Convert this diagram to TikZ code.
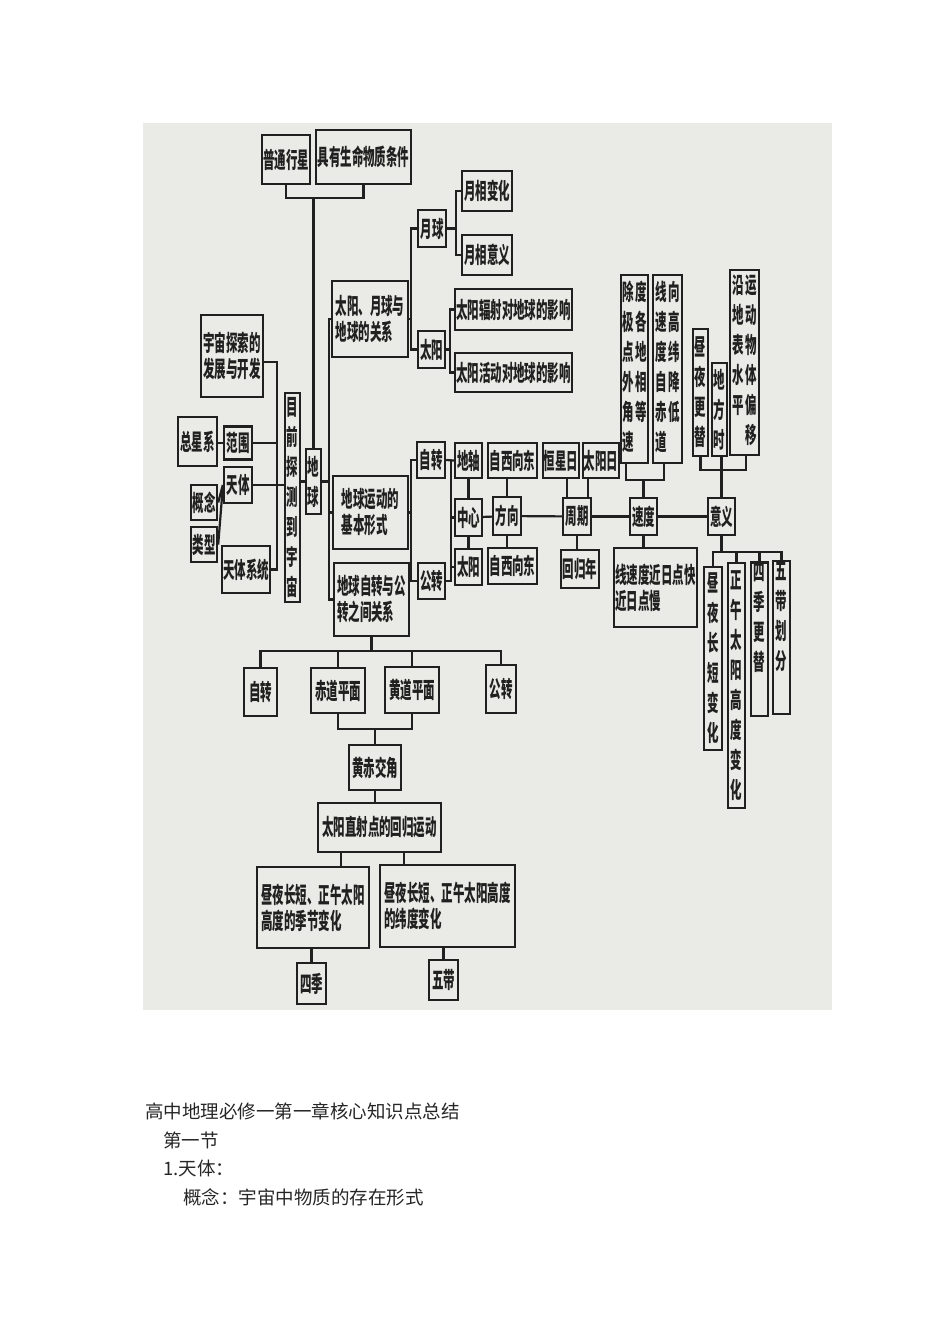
\documentclass[tikz,border=0pt]{standalone}
\usepackage{fontspec}
\newfontfamily\cjk[FakeStretch=0.51]{Noto Sans CJK SC}
\newfontfamily\cjkbody{Noto Sans CJK SC}
\usepackage{tikz}
\definecolor{scan}{RGB}{234,234,230}
\definecolor{ink}{RGB}{32,32,32}
\newcommand{\vcol}[1]{\begin{tabular}[t]{@{}c@{}}#1\end{tabular}}
\tikzset{
  box/.style={draw=ink, text=ink, line width=2.4pt, inner sep=1pt, align=center,
    font=\cjk\bfseries\fontsize{22.5}{26}\selectfont},
  vbox/.style={box, font=\cjk\bfseries\fontsize{22.5}{30}\selectfont},
  link/.style={draw=ink, line width=2.2pt},
  foot/.style={anchor=west, inner sep=0pt, text=black!85,
    font=\cjkbody\fontsize{18.5}{20}\selectfont},
}
\begin{document}
\begin{tikzpicture}[x=1pt,y=-1pt]
\useasboundingbox (0,0) rectangle (950,1344);
\fill[scan] (143,123) rectangle (832,1010);
%%%%%%%%%%%%%%%%%%%%%%%%%%%%%%%%
%% top and left part
%%%%%%%%%%%%%%%%%%%%%%%%%%%%%%%%
\node[box, minimum width=48, minimum height=49] (putong) at (286,159.5) {普通行星};
\node[box, minimum width=95, minimum height=54] (juyou) at (363.5,157) {具有生命物质条件};
\node[vbox, minimum width=15, minimum height=65] (diqiu) at (313.5,481.5) {地\\球};
\node[vbox, minimum width=15, minimum height=209] (muqian) at (292.5,497.5) {目\\前\\探\\测\\到\\宇\\宙};
\node[box, minimum width=62, minimum height=82] (yuzhou) at (232,356) {宇宙探索的\\发展与开发};
\node[box, minimum width=39, minimum height=49] (zongxing) at (197.5,441.5) {总星系};
\node[box, minimum width=28, minimum height=33] (fanwei) at (238,443) {范围};
\node[box, minimum width=28, minimum height=36] (tianti) at (238,485) {天体};
\node[box, minimum width=26, minimum height=35] (gainian) at (204,502.5) {概念};
\node[box, minimum width=26, minimum height=35] (leixing) at (204,544.5) {类型};
\node[box, minimum width=48, minimum height=47] (tixi) at (246,569.5) {天体系统};
%
\coordinate (topbus) at (313.5,198);
\draw[link] (putong.south) |- (topbus) -| (juyou.south);
\draw[link] (topbus) -- (diqiu.north);
\draw[link] (muqian.east |- diqiu.west) -- (diqiu.west);
\coordinate (lbus) at (277,0);
\draw[link] ([yshift=-6pt]yuzhou.east) -| (lbus |- tixi.east) -- (tixi.east);
\draw[link] (fanwei.east) -- (lbus |- fanwei.east);
\draw[link] (tianti.east) -- (muqian.west |- tianti.east);
\draw[link] (zongxing.east |- fanwei.west) -- (fanwei.west);
\draw[link] (gainian.east) -- (tianti.west);
\draw[link] (leixing.east) -- ([yshift=-2pt]tianti.west);
%%%%%%%%%%%%%%%%%%%%%%%%%%%%%%%%
%% sun, moon and earth
%%%%%%%%%%%%%%%%%%%%%%%%%%%%%%%%
\node[box, align=left, minimum width=76, minimum height=76] (guanxi) at (370,319) {太阳、月球与\\地球的关系};
\node[box, minimum width=28, minimum height=37] (yueqiu) at (432,228.5) {月球};
\node[box, minimum width=27, minimum height=37] (taiyang) at (431.5,349.5) {太阳};
\node[box, minimum width=50, minimum height=40] (yxbh) at (487,191) {月相变化};
\node[box, minimum width=50, minimum height=40] (yxyy) at (487,255) {月相意义};
\node[box, minimum width=117, minimum height=41] (fushe) at (513.5,309.5) {太阳辐射对地球的影响};
\node[box, minimum width=117, minimum height=39] (huodong) at (513.5,372.5) {太阳活动对地球的影响};
%
\coordinate (gbus) at (411,0);
\draw[link] (yueqiu.west) -| (gbus |- taiyang.west) -- (taiyang.west);
\draw[link] (guanxi.east) -- (gbus |- guanxi.east);
\coordinate (ybus) at (456,0);
\draw[link] (yxbh.west) -| (ybus |- yxyy.west) -- (yxyy.west);
\draw[link] (yueqiu.east) -- (ybus |- yueqiu.east);
\coordinate (tbus) at (450,0);
\draw[link] (fushe.west) -| (tbus |- huodong.west) -- (huodong.west);
\draw[link] (taiyang.east) -- (tbus |- taiyang.east);
%%%%%%%%%%%%%%%%%%%%%%%%%%%%%%%%
%% earth motion
%%%%%%%%%%%%%%%%%%%%%%%%%%%%%%%%
\node[box, align=left, minimum width=75, minimum height=73] (yundong) at (370.5,512.5) {地球运动的\\基本形式};
\node[box, align=left, minimum width=75, minimum height=73] (zhuangong) at (371.5,599.5) {地球自转与公\\转之间关系};
\node[box, minimum width=28, minimum height=36] (zizhuan) at (431,460) {自转};
\node[box, minimum width=27, minimum height=36] (gongzhuan) at (431.5,581) {公转};
\node[box, minimum width=27, minimum height=35] (dizhou) at (468.5,460.5) {地轴};
\node[box, minimum width=27, minimum height=37] (zhongxin) at (468.5,517.5) {中心};
\node[box, minimum width=27, minimum height=36] (taiyang2) at (468.5,567) {太阳};
\node[box, minimum width=49, minimum height=35] (xd1) at (512.5,460.5) {自西向东};
\node[box, minimum width=28, minimum height=38] (fangxiang) at (507,516) {方向};
\node[box, minimum width=49, minimum height=36] (xd2) at (512.5,566) {自西向东};
\node[box, minimum width=36, minimum height=35] (hengxing) at (561,460.5) {恒星日};
\node[box, minimum width=36, minimum height=35] (taiyangri) at (601,460.5) {太阳日};
\node[box, minimum width=28, minimum height=37] (zhouqi) at (577,516.5) {周期};
\node[box, minimum width=38, minimum height=38] (huigui) at (580,569) {回归年};
\node[box, minimum width=27, minimum height=37] (sudu) at (643.5,516.5) {速度};
\node[box, minimum width=27, minimum height=37] (yiyi) at (721.5,516.5) {意义};
\node[box, align=left, minimum width=83, minimum height=79] (xiansudu) at (655.5,587.5) {线速度近日点快\\近日点慢};
%
\coordinate (mbus) at (329,0);
\draw[link] (guanxi.west) -| (mbus |- zhuangong.west) -- (zhuangong.west);
\draw[link] (diqiu.east) -- (mbus |- diqiu.east);
\draw[link] (yundong.west) -- (mbus |- yundong.west);
\draw[link] (zizhuan.west) -| (gbus |- gongzhuan.west) -- (gongzhuan.west);
\draw[link] (yundong.east) -- (gbus |- yundong.east);
\coordinate (zbus) at (451,0);
\draw[link] (zizhuan.east) -- (dizhou.west);
\draw[link] (dizhou.west -| zbus) |- (gongzhuan.east);
\draw[link] (zhongxin.west) -- (zbus |- zhongxin.west);
\draw[link] (taiyang2.west) -- (zbus |- taiyang2.west);
\draw[link] (dizhou) -- (zhongxin);
\draw[link] (zhongxin) -- (taiyang2);
\draw[link] (zhongxin) -- (fangxiang);
\draw[link] (fangxiang.north) -- (fangxiang.north |- xd1.south);
\draw[link] (fangxiang.south) -- (fangxiang.south |- xd2.north);
\draw[link] (fangxiang) -- (zhouqi);
\draw[link] ([xshift=-10pt]zhouqi.north) -- ([xshift=-10pt]zhouqi.north |- hengxing.south);
\draw[link] ([xshift=11pt]zhouqi.north) -- ([xshift=11pt]zhouqi.north |- taiyangri.south);
\draw[link] (zhouqi.south) -- (zhouqi.south |- huigui.north);
\draw[link] (zhouqi) -- (sudu);
\draw[link] (sudu) -- (yiyi);
\draw[link] (sudu.south) -- (sudu.south |- xiansudu.north);
%%%%%%%%%%%%%%%%%%%%%%%%%%%%%%%%
%% vertical boxes, right
%%%%%%%%%%%%%%%%%%%%%%%%%%%%%%%%
\node[vbox, minimum width=27, minimum height=188] (jiao) at (634.5,369) {\vcol{除\\极\\点\\外\\角\\速}\hspace{1pt}\vcol{度\\各\\地\\相\\等}};
\node[vbox, minimum width=29, minimum height=188] (xian) at (667.5,369) {\vcol{线\\速\\度\\自\\赤\\道}\hspace{1pt}\vcol{向\\高\\纬\\降\\低}};
\node[vbox, minimum width=15, minimum height=127] (zhouye) at (700.5,392.5) {昼\\夜\\更\\替};
\node[vbox, minimum width=15, minimum height=93] (difang) at (719.5,409.5) {地\\方\\时};
\node[vbox, minimum width=29, minimum height=185] (pianyi) at (744.5,362.5) {\vcol{沿\\地\\表\\水\\平}\hspace{1pt}\vcol{运\\动\\物\\体\\偏\\移}};
\node[vbox, minimum width=18, minimum height=183] (zyc) at (713,658.5) {昼\\夜\\长\\短\\变\\化};
\node[vbox, minimum width=17, minimum height=245] (zw) at (736.5,685.5) {正\\午\\太\\阳\\高\\度\\变\\化};
\node[vbox, minimum width=17, minimum height=152] (sj) at (759.5,639) {四\\季\\更\\替\\[14pt]};
\node[vbox, minimum width=17, minimum height=151] (wd) at (781.5,637.5) {五\\带\\划\\分\\[14pt]};
%
\coordinate (vbus) at (0,480);
\draw[link] ([xshift=-8.5pt]jiao.south) |- ([xshift=-3.5pt]xian.south |- vbus) -- ([xshift=-3.5pt]xian.south);
\draw[link] (sudu.north) -- (sudu.north |- vbus);
\coordinate (ybus2) at (0,470);
\draw[link] (zhouye.south) |- ([xshift=1.5pt]pianyi.south |- ybus2) -- ([xshift=1.5pt]pianyi.south);
\draw[link] (yiyi.north) -- (yiyi.north |- difang.south);
\coordinate (sbus) at (0,552);
\draw[link] (yiyi.south) -- (yiyi.south |- sbus);
\draw[link] (zyc.north) |- (wd.north |- sbus) -- (wd.north);
\draw[link] (zw.north) -- (zw.north |- sbus);
\draw[link] (sj.north) -- (sj.north |- sbus);
%%%%%%%%%%%%%%%%%%%%%%%%%%%%%%%%
%% bottom part
%%%%%%%%%%%%%%%%%%%%%%%%%%%%%%%%
\node[box, minimum width=33, minimum height=48] (zizhuan2) at (260.5,692) {自转};
\node[box, minimum width=54, minimum height=45] (chidao) at (338,690.5) {赤道平面};
\node[box, minimum width=54, minimum height=46] (huangdao) at (412,690) {黄道平面};
\node[box, minimum width=30, minimum height=48] (gongzhuan2) at (501,689) {公转};
\node[box, minimum width=52, minimum height=45] (huangchi) at (375,767.5) {黄赤交角};
\node[box, minimum width=123, minimum height=49] (zhishe) at (379.5,827.5) {太阳直射点的回归运动};
\node[box, align=left, minimum width=112, minimum height=81] (jijie) at (313,907.5) {昼夜长短、正午太阳\\高度的季节变化};
\node[box, align=left, minimum width=135, minimum height=82] (weidu) at (447.5,906) {昼夜长短、正午太阳高度\\的纬度变化};
\node[box, minimum width=29, minimum height=41] (siji) at (311.5,983.5) {四季};
\node[box, minimum width=29, minimum height=40] (wudai) at (443.5,980) {五带};
%
\coordinate (bbus) at (0,651);
\draw[link] (zhuangong.south) -- (zhuangong.south |- bbus);
\draw[link] (zizhuan2.north) |- (gongzhuan2.north |- bbus) -- (gongzhuan2.north);
\draw[link] (chidao.north) -- (chidao.north |- bbus);
\draw[link] (huangdao.north) -- (huangdao.north |- bbus);
\coordinate (hbus) at (0,729);
\draw[link] (chidao.south) |- (huangdao.south |- hbus) -- (huangdao.south);
\draw[link] (huangchi.north) -- (huangchi.north |- hbus);
\draw[link] (huangchi.south) -- (huangchi.south |- zhishe.north);
\draw[link] ([xshift=28pt]jijie.north) -- ([xshift=28pt]jijie.north |- zhishe.south);
\draw[link] ([xshift=-43.5pt]weidu.north) -- ([xshift=-43.5pt]weidu.north |- zhishe.south);
\draw[link] (siji.north) -- (siji.north |- jijie.south);
\draw[link] (wudai.north) -- (wudai.north |- weidu.south);
%%%%%%%%%%%%%%%%%%%%%%%%%%%%%%%%
%% text below
%%%%%%%%%%%%%%%%%%%%%%%%%%%%%%%%
\node[foot] (title) at (145,1111) {高中地理必修一第一章核心知识点总结};
\node[foot] (jie) at (163,1140) {第一节};
\node[foot] (item) at (163,1168) {1.天体：};
\node[foot] (gn) at (183,1197) {概念：宇宙中物质的存在形式};
\end{tikzpicture}
\end{document}
